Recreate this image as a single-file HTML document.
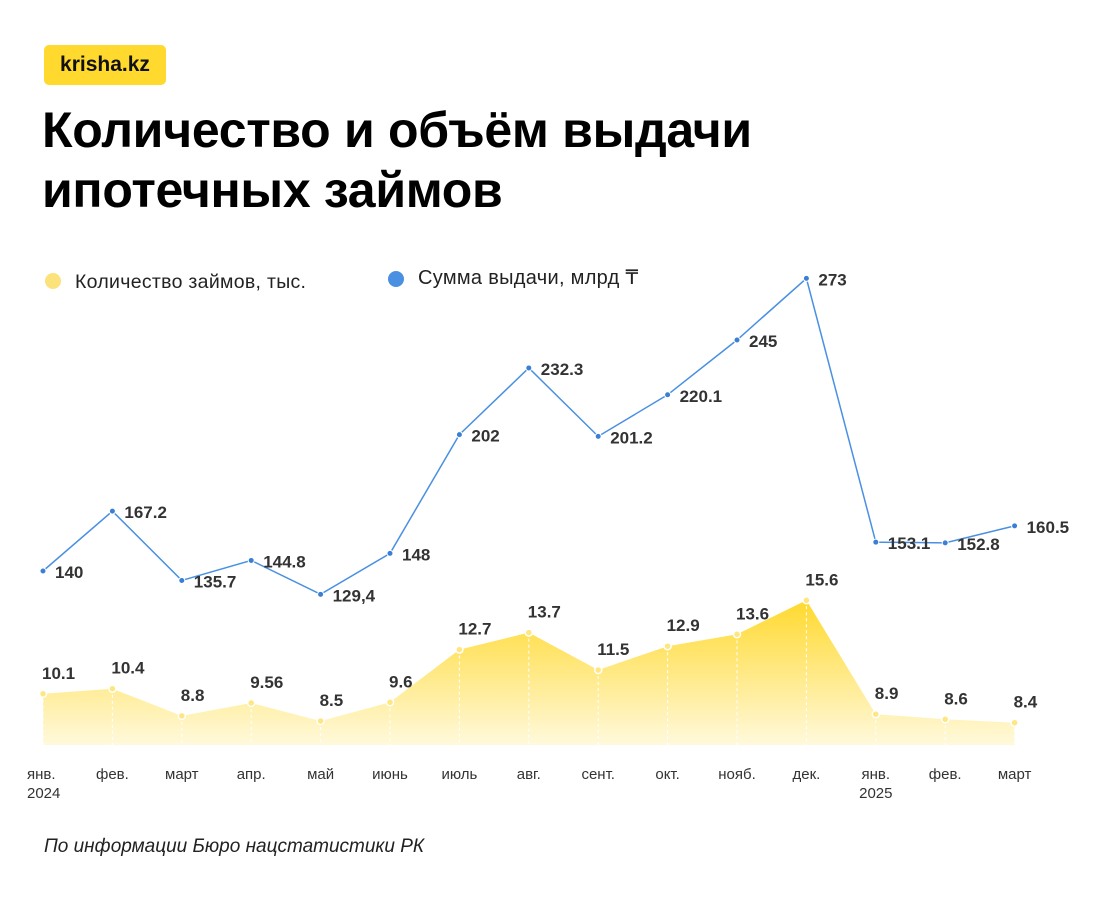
<!DOCTYPE html>
<html><head><meta charset="utf-8">
<style>
body{margin:0;width:1101px;height:900px;background:#fff;font-family:"Liberation Sans",sans-serif;overflow:hidden;position:relative}
.logo{position:absolute;left:44px;top:45px;width:122px;height:40px;background:#FFD92E;border-radius:5px;font-weight:bold;font-size:21px;line-height:40px;text-align:center;color:#111}
h1{position:absolute;left:42px;top:100px;margin:0;font-size:50px;line-height:60px;font-weight:bold;color:#000;letter-spacing:-0.3px}
.src{position:absolute;left:44px;top:836px;font-style:italic;font-size:19px;color:#222}
svg{position:absolute;left:0;top:0}
</style></head><body>
<div class="logo">krisha.kz</div>
<h1>Количество и объём выдачи<br>ипотечных займов</h1>
<div class="src">По информации Бюро нацстатистики РК</div>
<svg id="chart" width="1101" height="900">
<defs><linearGradient id="yg" x1="0" y1="0" x2="0" y2="1"><stop offset="0" stop-color="#FFD92E"/><stop offset="1" stop-color="#FFF9DC"/></linearGradient></defs>
<circle cx="53" cy="281" r="8" fill="#FBE27A"/>
<text x="75" y="288" font-size="19.5" letter-spacing="0.3" fill="#222">Количество займов, тыс.</text>
<circle cx="396" cy="279" r="8" fill="#4A90E2"/>
<text x="418" y="284" font-size="20" letter-spacing="0.3" fill="#222">Сумма выдачи, млрд ₸</text>
</svg>
<script>
const months=["янв.|2024","фев.","март","апр.","май","июнь","июль","авг.","сент.","окт.","нояб.","дек.","янв.|2025","фев.","март"];
const counts=[10.1,10.4,8.8,9.56,8.5,9.6,12.7,13.7,11.5,12.9,13.6,15.6,8.9,8.6,8.4];
const countLabels=["10.1","10.4","8.8","9.56","8.5","9.6","12.7","13.7","11.5","12.9","13.6","15.6","8.9","8.6","8.4"];
const sums=[140,167.2,135.7,144.8,129.4,148,202,232.3,201.2,220.1,245,273,153.1,152.8,160.5];
const sumLabels=["140","167.2","135.7","144.8","129,4","148","202","232.3","201.2","220.1","245","273","153.1","152.8","160.5"];
const NS="http://www.w3.org/2000/svg";
const svg=document.getElementById('chart');
const x=i=>43+i*69.4;
const yC=v=>721-(v-8.5)*17;
const yS=v=>571-(v-140)*2.2;
const base=745;
function mk(t,a){const e=document.createElementNS(NS,t);for(const k in a)e.setAttribute(k,a[k]);svg.appendChild(e);return e;}
let d="M"+x(0)+","+base;
counts.forEach((v,i)=>d+=" L"+x(i)+","+yC(v));
d+=" L"+x(counts.length-1)+","+base+" Z";
const area=mk('path',{d:d,fill:"url(#yg)"});


counts.forEach((v,i)=>{
 const ln=mk('line',{x1:x(i),y1:yC(v),x2:x(i),y2:base,stroke:"#fff","stroke-width":1,"stroke-dasharray":"3,3"});
 
 
});
counts.forEach((v,i)=>{
 const c=mk('circle',{cx:x(i),cy:yC(v),r:3.5,fill:"#FFE680",stroke:"#fff","stroke-width":1.5});
 
 
 const t=mk('text',{x:x(i)-1,y:yC(v)-15,"font-size":17,"font-weight":"bold",fill:"#333"});
 t.textContent=countLabels[i];
 
 
});
const pl=mk('polyline',{points:sums.map((v,i)=>x(i)+","+yS(v)).join(" "),fill:"none",stroke:"#4A90E2","stroke-width":1.5});


sums.forEach((v,i)=>{
 const c=mk('circle',{cx:x(i),cy:yS(v),r:3,fill:"#3A7FD5",stroke:"#fff","stroke-width":1});
 
 
 const t=mk('text',{x:x(i)+12,y:yS(v)+7,"font-size":17,"font-weight":"bold",fill:"#333"});
 t.textContent=sumLabels[i];
 
 
});
months.forEach((m,i)=>{
 const parts=m.split("|");
 parts.forEach((p,j)=>{
  const t=mk('text',{x:x(i)+(i==0?-16:0),y:779+j*19,"font-size":15,fill:"#333","text-anchor":i==0?"start":"middle"});
  t.textContent=p;
  
  
 });
});
</script>
</body></html>
